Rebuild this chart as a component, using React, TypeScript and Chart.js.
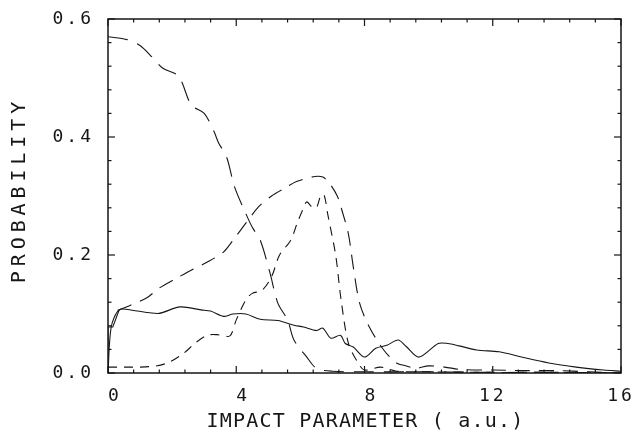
import React, { useEffect, useRef } from "react";
import { Chart, registerables } from "chart.js";

Chart.register(...registerables);

// ---- data ----
const xTickValues = [0, 4, 8, 12, 16];
const yTickValues = [0, 0.2, 0.4, 0.6];
const xTitle = "IMPACT PARAMETER ( a.u.)";
const yTitle = "PROBABILITY";

// long-dashed curve (starts at 0.57)
const longDashX = [0, 0.6, 1.0, 1.4, 1.7, 2.2, 2.6, 3.0, 3.3, 3.45, 3.7, 3.95, 4.3, 4.5, 4.75, 5.05, 5.3, 5.6, 5.8, 6.2, 6.5, 7.0, 8, 10, 12, 14, 16];
const longDashY = [0.57, 0.565, 0.555, 0.534, 0.517, 0.503, 0.454, 0.44, 0.41, 0.39, 0.366, 0.315, 0.27, 0.247, 0.225, 0.17, 0.118, 0.09, 0.056, 0.027, 0.008, 0.003, 0.002, 0.002, 0.001, 0.001, 0.0];

// medium-dashed curve (peak ~0.335)
const medDashX = [0.3, 0.7, 1.2, 1.6, 2.15, 2.65, 3.1, 3.6, 3.9, 4.3, 4.7, 5.1, 5.5, 5.9, 6.45, 6.7, 6.9, 7.15, 7.3, 7.5, 7.65, 7.85, 8.15, 8.6, 9.0, 9.3, 9.6, 10.0, 10.5, 11, 12, 13, 14, 15, 16];
const medDashY = [0.106, 0.115, 0.127, 0.144, 0.161, 0.176, 0.188, 0.205, 0.225, 0.254, 0.282, 0.3, 0.313, 0.325, 0.333, 0.332, 0.322, 0.3, 0.275, 0.235, 0.18, 0.118, 0.078, 0.039, 0.017, 0.012, 0.008, 0.012, 0.01, 0.006, 0.005, 0.004, 0.004, 0.002, 0.0];

// short-dashed curve (peak ~0.30)
const shortDashX = [0, 0.5, 1.0, 1.5, 1.9, 2.35, 2.75, 3.1, 3.4, 3.8, 4.0, 4.3, 4.5, 4.8, 5.1, 5.35, 5.7, 5.9, 6.1, 6.2, 6.35, 6.5, 6.65, 6.75, 6.85, 7.1, 7.27, 7.5, 7.8, 8.0, 8.5, 9, 10, 12, 14, 16];
const shortDashY = [0.01, 0.01, 0.01, 0.012, 0.018, 0.033, 0.052, 0.064, 0.065, 0.063, 0.09, 0.124, 0.135, 0.14, 0.163, 0.2, 0.225, 0.254, 0.28, 0.29, 0.282, 0.28, 0.303, 0.3, 0.27, 0.2, 0.124, 0.05, 0.017, 0.005, 0.01, 0.003, 0.002, 0.001, 0.001, 0.0];

// solid curve
const solidX = [0, 0.1, 0.35, 0.8, 1.3, 1.6, 2.25, 2.9, 3.2, 3.6, 3.9, 4.3, 4.75, 5.3, 5.8, 6.1, 6.5, 6.7, 6.95, 7.25, 7.4, 7.65, 8.0, 8.35, 8.7, 9.05, 9.3, 9.7, 10.3, 10.6, 10.95, 11.5, 12.2, 12.9, 13.75, 14.6, 15.45, 16];
const solidY = [0.0, 0.078, 0.107, 0.106, 0.102, 0.101, 0.112, 0.107, 0.105, 0.096, 0.1, 0.1, 0.091, 0.089, 0.081, 0.078, 0.072, 0.076, 0.059, 0.064, 0.05, 0.044, 0.027, 0.042, 0.047, 0.056, 0.045, 0.027, 0.05, 0.05, 0.046, 0.039, 0.036, 0.027, 0.017, 0.01, 0.005, 0.003];

// small solid step near the origin
const stepX = [0, 0, 0.15, 0.35];
const stepY = [0.0, 0.078, 0.078, 0.107];

const toPoints = (xs: number[], ys: number[]) => xs.map((x, i) => ({ x, y: ys[i] }));

const FONT = '"DejaVu Sans Mono", "Liberation Mono", monospace';
const INK = "#161616";

const framePlugin = {
  id: "frameTicks",
  beforeDraw(chart: any) {
    (chart.ctx as any).letterSpacing = "3px";
  },
  afterDraw(chart: any) {
    const { ctx, chartArea: a, scales } = chart;
    const xs = scales.x;
    const ys = scales.y;
    ctx.save();
    ctx.strokeStyle = INK;
    ctx.lineWidth = 1.5;
    ctx.strokeRect(a.left, a.top, a.right - a.left, a.bottom - a.top);
    ctx.lineWidth = 1.2;
    const seg = (x1: number, y1: number, x2: number, y2: number) => {
      ctx.beginPath();
      ctx.moveTo(x1, y1);
      ctx.lineTo(x2, y2);
      ctx.stroke();
    };
    // x ticks: major every 4, minor every 0.8
    for (let i = 0; i <= 20; i++) {
      const px = xs.getPixelForValue(i * 0.8);
      const L = i % 5 === 0 ? 7 : 3.5;
      seg(px, a.bottom, px, a.bottom - L);
      seg(px, a.top, px, a.top + L);
    }
    // y ticks: major every 0.2, minor every 0.04
    for (let i = 0; i <= 15; i++) {
      const py = ys.getPixelForValue(i * 0.04);
      const L = i % 5 === 0 ? 7 : 3.5;
      seg(a.left, py, a.left + L, py);
      seg(a.right, py, a.right - L, py);
    }
    // axis titles
    ctx.fillStyle = INK;
    ctx.font = `20px ${FONT}`;
    ctx.textAlign = "center";
    ctx.textBaseline = "middle";
    (ctx as any).letterSpacing = "1.2px";
    ctx.fillText(xTitle, (a.left + a.right) / 2 + 1, a.bottom + 49);
    ctx.translate(20, (a.top + a.bottom) / 2 - 6);
    ctx.rotate(-Math.PI / 2);
    (ctx as any).letterSpacing = "4.9px";
    ctx.fillText(yTitle, 0, 0);
    ctx.restore();
  },
};

export default function App() {
  const ref = useRef<HTMLCanvasElement | null>(null);

  useEffect(() => {
    if (!ref.current) return;
    const line = (xs: number[], ys: number[], dash: number[], tension = 0.3) => ({
      data: toPoints(xs, ys),
      showLine: true,
      borderColor: INK,
      borderWidth: 1.1,
      borderDash: dash,
      pointRadius: 0,
      tension,
      fill: false,
    });
    const chart = new Chart(ref.current, {
      type: "scatter",
      data: {
        datasets: [
          line(longDashX, longDashY, [20, 10]),
          line(medDashX, medDashY, [15, 9]),
          line(shortDashX, shortDashY, [9, 7]),
          line(solidX, solidY, []),
          line(stepX, stepY, [], 0),
        ],
      },
      options: {
        responsive: false,
        animation: false,
        layout: { padding: { left: 0, right: 15, top: 19, bottom: 0 } },
        plugins: { legend: { display: false }, tooltip: { enabled: false } },
        scales: {
          x: {
            type: "linear",
            min: 0,
            max: 16,
            afterBuildTicks: (s: any) => {
              s.ticks = xTickValues.map((v) => ({ value: v }));
            },
            afterFit: (s: any) => {
              s.height = 60;
              s.paddingLeft = 0;
              s.paddingRight = 0;
            },
            grid: { display: false, drawTicks: false },
            border: { display: false },
            ticks: {
              padding: 13,
              color: INK,
              font: { family: FONT, size: 18 },
              callback: (v: any) => String(v).padStart(2, " "),
              maxRotation: 0,
            },
          },
          y: {
            type: "linear",
            min: 0,
            max: 0.6,
            afterBuildTicks: (s: any) => {
              s.ticks = yTickValues.map((v) => ({ value: v }));
            },
            afterFit: (s: any) => {
              s.width = 108;
              s.paddingTop = 0;
              s.paddingBottom = 0;
            },
            grid: { display: false, drawTicks: false },
            border: { display: false },
            ticks: {
              padding: 14,
              color: INK,
              font: { family: FONT, size: 18 },
              callback: (v: any) => Number(v).toFixed(1),
            },
          },
        },
      },
      plugins: [framePlugin],
    } as any);
    return () => chart.destroy();
  }, []);

  return (
    <div style={{ position: "absolute", left: 0, top: 0, width: 636, height: 433, background: "#fff" }}>
      <canvas ref={ref} width={636} height={433} style={{ display: "block" }} />
    </div>
  );
}
